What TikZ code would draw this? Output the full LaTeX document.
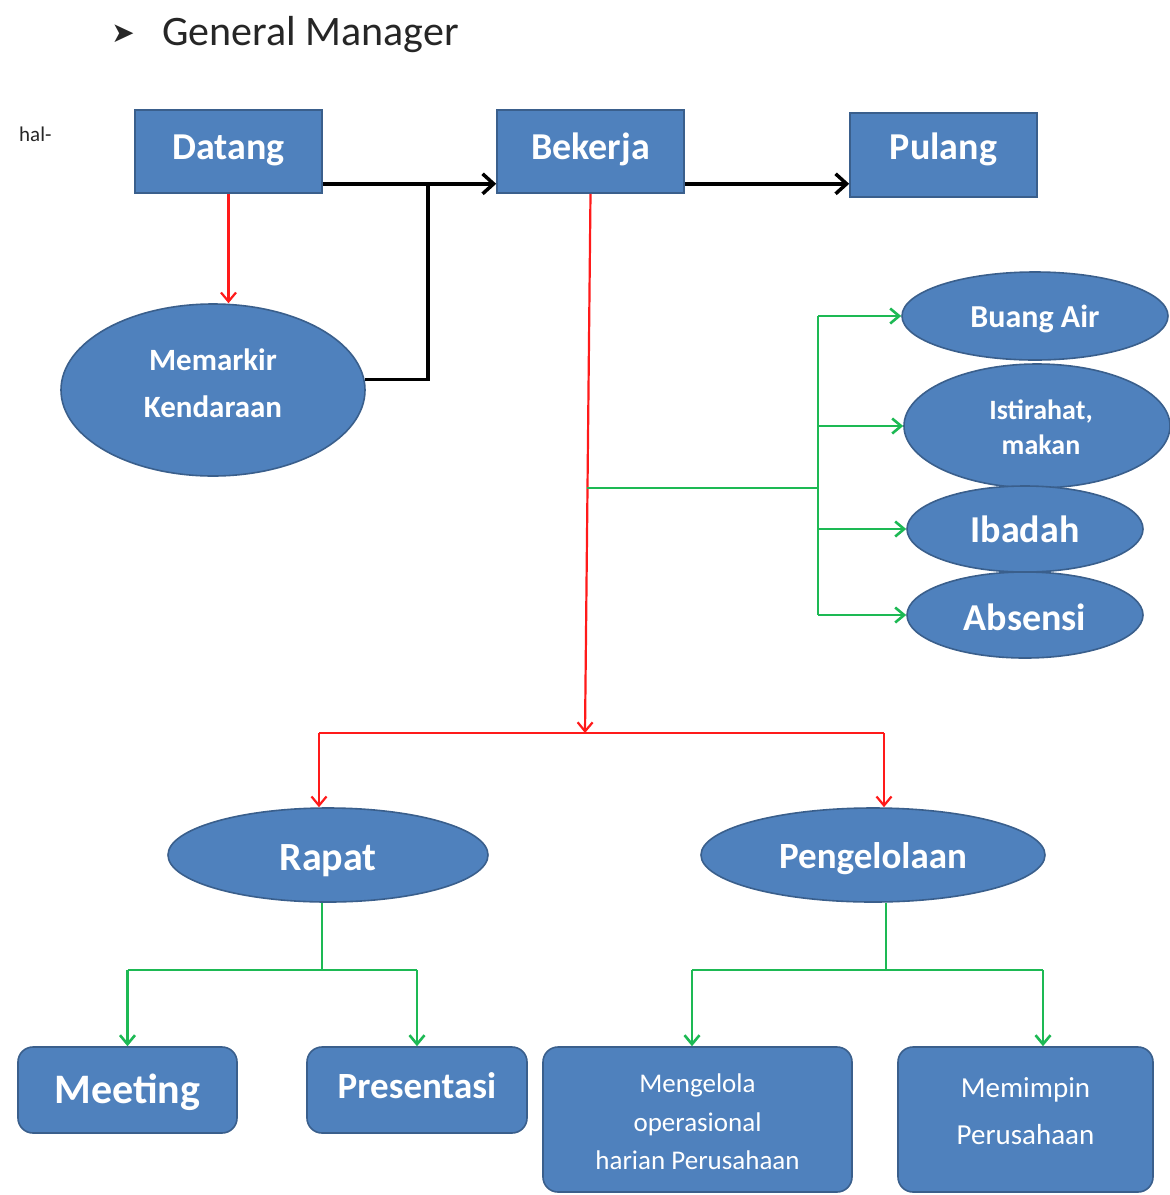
\documentclass[tikz,border=0pt]{standalone}
\usepackage{fontspec}
\setmainfont{Carlito}
\newfontfamily\symfont{DejaVu Sans}
\usetikzlibrary{shapes.geometric,arrows.meta,calc}
\definecolor{boxblue}{HTML}{4F81BD}
\definecolor{boxedge}{HTML}{3A5F8C}
\definecolor{flowred}{HTML}{FF1A1A}
\definecolor{flowgreen}{HTML}{1DB954}
\definecolor{inkgray}{HTML}{262626}
% shift a (possibly multi-line) centred label up inside its shape,
% keeping the box's own height and depth so the node stays put;
% #2 sets the font (and line spacing) before the lines are stacked
\newcommand{\liftText}[3]{\raisebox{#1}[\height][\depth]{#2\begin{tabular}{@{}c@{}}#3\end{tabular}}}
\newcommand{\fs}[2]{\fontsize{#1}{#2}\selectfont}

\begin{document}
\begin{tikzpicture}[x=1pt,y=-1pt,
  base/.style={fill=boxblue, draw=boxedge, line width=1.6pt, text=white,
    align=center, inner sep=0pt},
  stepbox/.style={base, rectangle, minimum width=187pt, minimum height=83pt},
  roundbox/.style={base, rectangle, rounded corners=15pt},
  oval/.style={base, ellipse},
  blackflow/.style={line width=3.5pt, draw=black, line join=miter},
  blackarrow/.style={blackflow, -{Straight Barb[length=11pt,width=20pt]}},
  redflow/.style={line width=2.2pt, draw=flowred},
  redarrow/.style={redflow, -{Straight Barb[length=9pt,width=15pt]}},
  greenflow/.style={line width=2.6pt, draw=flowgreen},
  greenarrow/.style={greenflow, -{Straight Barb[length=9pt,width=15pt]}},
]
\useasboundingbox[fill=white] (0,0) rectangle (1170,1195);

% heading
\node[anchor=center, text=inkgray] (bullet) at (123,34) {\symfont\fs{28}{32}➤};
\node[anchor=west, text=inkgray, inner sep=0pt] (title) at (162,35) {\fs{42}{50}General Manager};
\node[anchor=west, text=inkgray, inner sep=0pt] (hal) at (19,134) {\fs{21}{25}hal-};

% top row
\node[stepbox] (dat) at (228.5,151.5) {\liftText{1pt}{\fs{38}{46}\bfseries}{Datang}};
\node[stepbox] (bek) at (590.5,151.5) {\liftText{1pt}{\fs{38}{46}\bfseries}{Bekerja}};
\node[stepbox, minimum height=84pt] (pul) at (943.5,155) {\liftText{5pt}{\fs{38}{46}\bfseries}{Pulang}};

% parking
\node[oval, minimum width=304pt, minimum height=172pt] (mem) at (213,390)
  {\liftText{5pt}{\fs{31}{47}\bfseries}{Memarkir\\Kendaraan}};

% side activities
\node[oval, minimum width=266pt, minimum height=88pt] (buang) at (1035,316)
  {\liftText{-3pt}{\fs{32}{40}\bfseries}{Buang Air}};
\node[oval, minimum width=266pt, minimum height=124pt] (ist) at (1037,426)
  {\liftText{-4pt}{\fs{28}{35}\bfseries}{\hspace*{8pt}Istirahat,\\\hspace*{8pt}makan}};
\node[oval, minimum width=236pt, minimum height=86pt] (iba) at (1025,529)
  {\liftText{-4pt}{\fs{38}{46}\bfseries}{Ibadah}};
\node[oval, minimum width=236pt, minimum height=86pt] (abs) at (1025,615)
  {\liftText{-6pt}{\fs{38}{46}\bfseries}{Absensi}};

% main tasks
\node[oval, minimum width=320pt, minimum height=94pt] (rapat) at (328,855)
  {\liftText{-6pt}{\fs{40}{48}\bfseries}{Rapat}};
\node[oval, minimum width=344pt, minimum height=94pt] (peng) at (873,855)
  {\liftText{-4pt}{\fs{37}{45}\bfseries}{Pengelolaan}};

% sub tasks
\node[roundbox, minimum width=219pt, minimum height=86pt] (meet) at (127.5,1090)
  {\liftText{-3pt}{\fs{42}{50}\bfseries}{Meeting}};
\node[roundbox, minimum width=220pt, minimum height=86pt] (pres) at (417,1090)
  {\liftText{1pt}{\fs{37}{45}\bfseries}{Presentasi}};
\node[roundbox, minimum width=309pt, minimum height=145pt] (meng) at (697.5,1119.5)
  {\liftText{-4pt}{\fs{27}{38.5}}{Mengelola\\operasional\\harian Perusahaan}};
\node[roundbox, minimum width=255pt, minimum height=145pt] (memp) at (1025.5,1119.5)
  {\liftText{7.5pt}{\fs{29}{47}}{Memimpin\\Perusahaan}};

% black main flow
\coordinate (datout) at ($(dat.south east)+(0,-10)$);
\coordinate (bekout) at ($(bek.south east)+(0,-10)$);
\coordinate (merge) at (428,0);
\draw[blackarrow] (datout) -- (datout -| bek.west);
\draw[blackarrow] (bekout) -- (bekout -| pul.west);
\draw[blackflow] (mem.4) -| (merge |- datout);

% red flows
\draw[redarrow] (dat.south) -- (dat.south |- mem.north);
\coordinate (split) at (585,733);
\coordinate (rapin) at (319,733);
\coordinate (pengin) at (884,733);
\draw[redarrow] (bek.south) -- (split);
\draw[redflow] (rapin) -- (pengin);
\draw[redarrow] (rapin) -- (rapin |- rapat.north);
\draw[redarrow] (pengin) -- (pengin |- peng.north);

% green side branch
\coordinate (gfrom) at (587,488);
\coordinate (gbar) at (818,488);
\draw[greenflow] (gfrom) -- (gbar);
\draw[greenflow] (buang.west -| gbar) -- (abs.west -| gbar);
\draw[greenarrow] (buang.west -| gbar) -- (buang.west);
\draw[greenarrow] (ist.west -| gbar) -- (ist.west);
\draw[greenarrow] (iba.west -| gbar) -- (iba.west);
\draw[greenarrow] (abs.west -| gbar) -- (abs.west);

% green sub-task branches
\coordinate (rbar) at (322,970);
\draw[greenflow] (rapat.south -| rbar) -- (rbar);
\draw[greenflow] (meet.north |- rbar) -- (pres.north |- rbar);
\draw[greenarrow] (meet.north |- rbar) -- (meet.north);
\draw[greenarrow] (pres.north |- rbar) -- (pres.north);

\coordinate (pbar) at (886,970);
\coordinate (mengin) at (692,970);
\coordinate (mempin) at (1043,970);
\draw[greenflow] (peng.south -| pbar) -- (pbar);
\draw[greenflow] (mengin) -- (mempin);
\draw[greenarrow] (mengin) -- (mengin |- meng.north);
\draw[greenarrow] (mempin) -- (mempin |- memp.north);
\end{tikzpicture}
\end{document}
